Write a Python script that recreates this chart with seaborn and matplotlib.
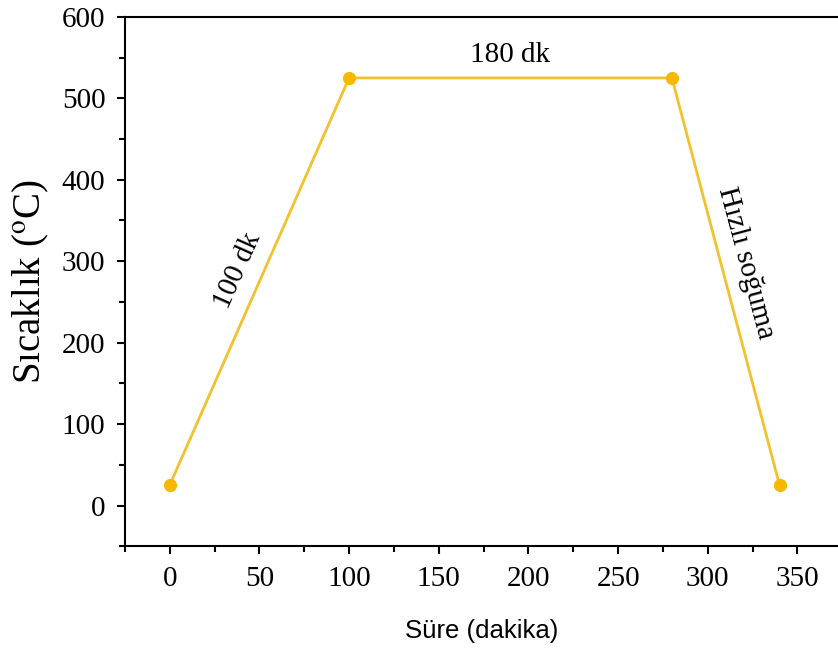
import numpy as np
import pandas as pd
import seaborn as sns
import matplotlib.pyplot as plt
from matplotlib.ticker import MultipleLocator

# heat treatment profile
time_min = [0, 100, 280, 340]
temp_c = [25, 525, 525, 25]

df = pd.DataFrame({'Süre': time_min, 'Sıcaklık': temp_c})

sns.set_style('ticks')
plt.rcParams['font.family'] = ['Liberation Serif', 'DejaVu Serif']
plt.rcParams['mathtext.fontset'] = 'stix'
plt.rcParams['text.color'] = 'black'
plt.rcParams['axes.labelcolor'] = 'black'
plt.rcParams['xtick.color'] = 'black'
plt.rcParams['ytick.color'] = 'black'

fig = plt.figure(figsize=(8.38, 6.48), dpi=100)
ax = fig.add_axes([0.149, 0.157, 0.851, 0.817])

sns.lineplot(data=df, x='Süre', y='Sıcaklık', ax=ax, color='#f2c12e', linewidth=2,
             marker='o', markersize=9.5, markerfacecolor='#f7b800', markeredgewidth=0)

ax.set_xlim(-25, 372.6)
ax.set_ylim(-50, 600)
ax.xaxis.set_major_locator(MultipleLocator(50))
ax.xaxis.set_minor_locator(MultipleLocator(25))
ax.yaxis.set_major_locator(MultipleLocator(100))
ax.yaxis.set_minor_locator(MultipleLocator(50))
ax.set_xticks([0, 50, 100, 150, 200, 250, 300, 350])
ax.set_yticks([0, 100, 200, 300, 400, 500, 600])

ax.tick_params(which='major', direction='out', length=6, width=1.5, labelsize=21, pad=8,
               colors='black')
ax.tick_params(which='minor', direction='out', length=4, width=1.5, colors='black')
for s in ['left', 'bottom', 'top']:
    ax.spines[s].set_linewidth(1.5)
    ax.spines[s].set_color('black')
ax.spines['right'].set_visible(False)

ax.set_xlabel('Süre (dakika)', family=['Liberation Sans', 'DejaVu Sans'], fontsize=18.5,
              labelpad=20, color='black')
ax.set_ylabel('Sıcaklık ($^{\\mathrm{o}}$C)', fontsize=28, labelpad=8, color='black')

ax.text(190, 553, '180 dk', fontsize=21, ha='center', va='center')
ax.text(38, 288, '100 dk', fontsize=21, ha='center', va='center', rotation=66)
ax.text(321, 298, 'Hızlı soğuma', fontsize=21, ha='center', va='center', rotation=-75)

plt.savefig('out.png', dpi=100)
